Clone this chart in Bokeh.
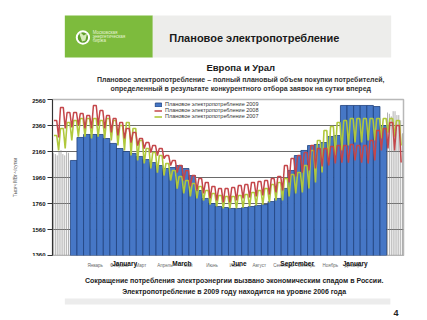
import numpy as np
from bokeh.plotting import figure
from bokeh.layouts import column
from bokeh.models import (Legend, LegendItem, FixedTicker, Range1d, ColumnDataSource)
from bokeh.core.properties import value
from bokeh.embed import file_html
from bokeh.resources import INLINE

# ---------------- data ----------------
months_ru = ["Январь", "Февраль", "Март", "Апрель", "Май", "Июнь", "Июль",
             "Август", "Сентябрь", "Октябрь", "Ноябрь", "Декабрь"]
month_start_days = [0, 31, 59, 90, 120, 151, 181, 212, 243, 273, 304, 334]
overlay_labels = ["January", "March", "June", "September", "January"]
overlay_days = [38, 112, 186, 261, 336]
y_ticks = [1360, 1560, 1760, 1960, 2160, 2360, 2560]
n_days = 373

# 2009: weekly planned consumption (first week starts on day 19)
first_day_2009 = 19
plan_2009 = [2091, 2268, 2291, 2291, 2291, 2260, 2222, 2183, 2160, 2145,
             2122, 2098, 2075, 2052, 2029, 2037, 2052, 2029, 1975, 1860,
             1799, 1760, 1737, 1729, 1722, 1722, 1729, 1737, 1745, 1752,
             1775, 1799, 1876, 2014, 2129, 2168, 2206, 2214, 2229, 2275,
             2283, 2514, 2514, 2514, 2514, 2514, 2506, 2360]

# thin unfilled columns at both ends of the period (every other day)
edge_days_left = [1, 3, 5, 7, 9, 11, 13, 15, 17]
edge_top_left = [2150, 2140, 2130, 2160, 2170, 2140, 2130, 2160, 2150]
edge_days_right = [356, 358, 360, 362, 364, 366, 368, 370, 372]
edge_top_right = [2460, 2450, 2430, 2470, 2470, 2440, 2440, 2400, 2300]

# 2008: weekday / weekend levels per week
plan_2008_weekday = [2398, 2498, 2460, 2460, 2452, 2437, 2514, 2475, 2437, 2414,
                     2383, 2337, 2306, 2260, 2229, 2206, 2183, 2129, 2091, 2052,
                     2014, 1975, 1952, 1922, 1891, 1875, 1875, 1883, 1898, 1906,
                     1922, 1929, 1937, 1952, 1968, 2052, 2106, 2129, 2152, 2206,
                     2183, 2183, 2198, 2206, 2206, 2214, 2206, 2206, 2245, 2322,
                     2337, 2383, 2360]
plan_2008_weekend = [2268, 2337, 2345, 2360, 2337, 2337, 2360, 2337, 2306, 2283,
                     2260, 2229, 2206, 2183, 2152, 2129, 2106, 2052, 1998, 1937,
                     1891, 1860, 1837, 1799, 1783, 1768, 1768, 1783, 1799, 1806,
                     1814, 1822, 1829, 1845, 1860, 1922, 1968, 1998, 2014, 2029,
                     2045, 2052, 2068, 2075, 2075, 2091, 2075, 2068, 2091, 2168,
                     2183, 2168, 2075]

# 2007: weekday / weekend levels per week
plan_2007_weekday = [2283, 2337, 2383, 2398, 2414, 2414, 2414, 2398, 2414, 2398,
                     2360, 2383, 2337, 2245, 2183, 2152, 2129, 2068, 2014, 1968,
                     1937, 1914, 1891, 1860, 1837, 1822, 1814, 1814, 1822, 1829,
                     1845, 1860, 1875, 1906, 1922, 1952, 1983, 1998, 2052, 2168,
                     2245, 2322, 2352, 2383, 2398, 2414, 2414, 2414, 2414, 2414,
                     2414, 2414, 2398]
plan_2007_weekend = [2168, 2183, 2245, 2275, 2275, 2260, 2275, 2260, 2245, 2206,
                     2168, 2129, 2091, 2068, 2029, 1998, 1975, 1937, 1875, 1837,
                     1814, 1799, 1783, 1752, 1737, 1722, 1722, 1722, 1729, 1737,
                     1745, 1752, 1768, 1783, 1783, 1814, 1837, 1845, 1875, 1922,
                     1998, 2075, 2129, 2168, 2206, 2229, 2229, 2245, 2245, 2260,
                     2306, 2275, 2206]

header_title = "Плановое электропотребление"
logo_lines = ["Московская", "энергетическая", "биржа"]
chart_title = "Европа и Урал"
chart_subtitle = ["Плановое электропотребление – полный плановый объем покупки потребителей,",
                  "определенный в результате конкурентного отбора заявок на сутки вперед"]
footer_lines = ["Сокращение потребления электроэнергии вызвано экономическим спадом в России.",
                "Электропотребление в 2009 году находится на уровне 2006 года"]
page_number = "4"


def weekly_line(weekday, weekend):
    xs, ys = [], []
    for w, (hi, lo) in enumerate(zip(weekday, weekend)):
        d = 7 * w
        xs += [d + 1.5, d + 4.5, d + 6.5]
        ys += [hi, hi, lo]
    return xs, ys


FONT = "Liberation Sans"
W = 427
LEFT, RIGHT = 52, 24          # chart frame borders (px)


def blank(height):
    f = figure(width=W, height=height, x_range=Range1d(0, W), y_range=Range1d(height, 0),
               output_backend="svg", toolbar_location=None, min_border=0,
               x_axis_location=None, y_axis_location=None)
    f.grid.visible = False
    f.outline_line_color = None
    f.background_fill_color = "white"
    f.border_fill_color = "white"
    return f


# ---------------- header (pixel layout) ----------------
H1 = 98
head = blank(H1)
head.quad(left=15, right=122, top=15, bottom=57, fill_color="#7dbb3d", line_color=None)
head.quad(left=122, right=412, top=15, bottom=57, fill_color="#ededeb", line_color=None)
head.circle(x=37, y=37, radius=7.5, fill_color="#5f9f2c", line_color="white", line_width=2)
head.patch(x=[33, 36, 40, 42, 38, 34], y=[34, 41, 40, 33, 35, 32],
           fill_color="#d6ecb8", line_color=None)
head.text(x=[49, 49, 49], y=[32, 36, 40], text=logo_lines, text_font=value(FONT),
          text_font_size="4.5px", text_color="#e6f3d6", text_baseline="middle")
head.text(x=[142], y=[37], text=[header_title], text_font=value(FONT), text_font_size="11px",
          text_font_style="bold", text_color="#1a1a1a", text_baseline="middle")
head.text(x=[229], y=[67], text=[chart_title], text_font=value(FONT), text_font_size="9.5px",
          text_font_style="bold", text_color="#1a1a1a", text_baseline="middle", text_align="center")
head.text(x=[229, 229], y=[79, 88], text=chart_subtitle, text_font=value(FONT),
          text_font_size="7px", text_font_style="bold", text_color="#333333",
          text_baseline="middle", text_align="center")

# ---------------- chart ----------------
H2 = 158
p = figure(width=W, height=H2, x_range=Range1d(0, n_days), y_range=Range1d(1360, 2560),
           output_backend="svg", toolbar_location=None, x_axis_location=None,
           min_border_left=LEFT, min_border_right=RIGHT, min_border_top=1, min_border_bottom=1)
p.background_fill_color = "white"
p.border_fill_color = "white"
p.outline_line_color = "#b8b8b8"
p.outline_line_width = 1.5

edge_x = edge_days_left + edge_days_right
edge_top = edge_top_left + edge_top_right
p.segment(x0=edge_x, y0=[1360] * len(edge_x), x1=edge_x, y1=edge_top,
          line_color="#8f8f8f", line_width=0.7)

src09 = ColumnDataSource(dict(x=[first_day_2009 + 7 * i + 3.5 for i in range(len(plan_2009))],
                              top=plan_2009))
r09 = p.vbar(x="x", top="top", bottom=1360, width=7, source=src09,
             fill_color="#4677c6", line_color="#21427e", line_width=0.8)

x07, y07 = weekly_line(plan_2007_weekday, plan_2007_weekend)
x08, y08 = weekly_line(plan_2008_weekday, plan_2008_weekend)
r07 = p.line(x07, y07, line_color="#b0c83c", line_width=1.6)
r08 = p.line(x08, y08, line_color="#c4464a", line_width=1.5)

legend = Legend(items=[LegendItem(label="Плановое электропотребление 2009", renderers=[r09]),
                       LegendItem(label="Плановое электропотребление 2008", renderers=[r08]),
                       LegendItem(label="Плановое электропотребление 2007", renderers=[r07])],
                location=(101, 135), label_text_font=FONT, label_text_font_size="5.5px",
                label_text_color="#333333", label_height=6, glyph_height=5, glyph_width=8,
                label_standoff=3, spacing=0, padding=1, margin=0,
                border_line_alpha=0, background_fill_alpha=0)
p.add_layout(legend)

p.xgrid.visible = False
p.ygrid.ticker = FixedTicker(ticks=y_ticks)
p.ygrid.grid_line_color = "#6a6a6a"
p.ygrid.grid_line_width = 1

p.yaxis.ticker = FixedTicker(ticks=y_ticks)
p.yaxis.axis_label = "Тысяч МВт·ч/сутки"
p.yaxis.axis_label_text_font = FONT
p.yaxis.axis_label_text_font_size = "4.5px"
p.yaxis.axis_label_text_font_style = "normal"
p.yaxis.axis_label_text_color = "#555555"
p.yaxis.axis_label_standoff = 11
p.yaxis.major_label_text_font = FONT
p.yaxis.major_label_text_font_size = "6px"
p.yaxis.major_label_text_font_style = "bold"
p.yaxis.major_label_text_color = "#111111"
p.yaxis.major_label_standoff = 2
p.yaxis.axis_line_color = "#333333"
p.yaxis.major_tick_line_color = "#333333"
p.yaxis.major_tick_out = 5
p.yaxis.major_tick_in = 0
p.yaxis.minor_tick_line_color = None

# ---------------- footer (pixel layout; month labels through a day scale) ----------------
H3 = 320 - H1 - H2
foot = blank(H3)
px_per_day = (W - LEFT - RIGHT) / n_days
foot.extra_x_ranges = {"day": Range1d(-LEFT / px_per_day, n_days + RIGHT / px_per_day)}
foot.text(x=month_start_days, y=[9] * len(months_ru), text=months_ru, x_range_name="day",
          text_font=value(FONT), text_font_size="4.5px", text_color="#6a6a6a",
          text_baseline="middle", text_align="center")
foot.text(x=overlay_days, y=[7] * len(overlay_labels), text=overlay_labels, x_range_name="day",
          text_font=value(FONT), text_font_size="6.5px", text_font_style="bold",
          text_color="#111111", text_baseline="middle", text_align="center")
foot.text(x=[221, 221], y=[24, 35], text=footer_lines, text_font=value(FONT),
          text_font_size="7px", text_font_style="bold", text_color="#222222",
          text_baseline="middle", text_align="center")
foot.quad(left=15, right=411, top=42, bottom=48, fill_color="#ececec", line_color=None)
foot.text(x=[418], y=[56], text=[page_number], text_font=value(FONT), text_font_size="9px",
          text_font_style="bold", text_color="#222222", text_baseline="middle",
          text_align="center")

layout = column(head, p, foot, spacing=0)
open("out.html", "w").write(file_html(layout, INLINE))
